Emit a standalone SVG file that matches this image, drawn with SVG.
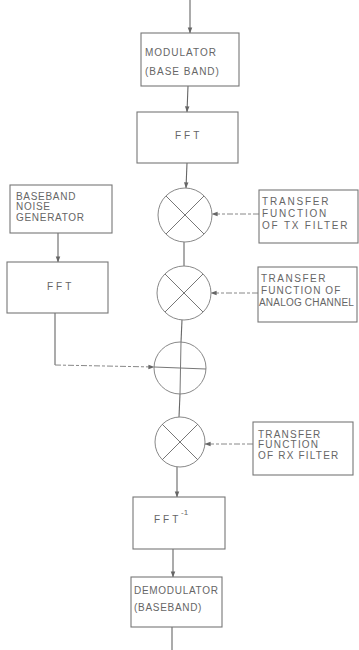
<svg xmlns="http://www.w3.org/2000/svg" width="359" height="650" viewBox="0 0 359 650">
  <defs>
    <marker id="arr" viewBox="0 0 8 8" refX="7.5" refY="4" markerWidth="6" markerHeight="6" orient="auto" markerUnits="userSpaceOnUse">
      <path d="M0,1 L8,4 L0,7 z" fill="#666"/>
    </marker>
    <style>
      .box { fill: #fff; stroke: #777; stroke-width: 1.1; }
      .op { fill: #fff; stroke: #888; stroke-width: 1; }
      .sym { stroke: #777; stroke-width: 1; fill: none; }
      .ln { stroke: #666; stroke-width: 1.1; fill: none; }
      .dash { stroke: #888; stroke-width: 1; fill: none; stroke-dasharray: 6 2 3 2; }
      text { font-family: "Liberation Sans", Arial, sans-serif; font-size: 10px; fill: #666; letter-spacing: 1px; }
      .wide { letter-spacing: 3px; }
    </style>
  </defs>

  <rect width="359" height="650" fill="#fff"/>

  <!-- connectors -->
  <g id="connectors">
    <path class="ln" d="M190,0 L190,33" marker-end="url(#arr)"/>
    <path class="ln" d="M188,86 L187,112" marker-end="url(#arr)"/>
    <path class="ln" d="M187,163 L186,188" marker-end="url(#arr)"/>
    <path class="ln" d="M184,242 L184,266"/>
    <path class="ln" d="M182,320 L181,342"/>
    <path class="ln" d="M180,394 L179,417"/>
    <path class="ln" d="M177,467 L177,497" marker-end="url(#arr)"/>
    <path class="ln" d="M173,549 L173,577" marker-end="url(#arr)"/>
    <path class="ln" d="M172,627 L172,650"/>
    <path class="ln" d="M58,233 L58,262" marker-end="url(#arr)"/>
    <path class="ln" d="M55,313 L55,365"/>
    <path class="dash" d="M55,365 L154,367" marker-end="url(#arr)"/>
    <path class="dash" d="M259,214 L212,214" marker-end="url(#arr)"/>
    <path class="dash" d="M258,293 L211,293" marker-end="url(#arr)"/>
    <path class="dash" d="M253,444 L205,444" marker-end="url(#arr)"/>
  </g>

  <!-- main chain -->
  <g id="modulator">
    <rect class="box" x="141" y="33" width="98" height="53"/>
    <text x="145" y="56">MODULATOR</text>
    <text x="145" y="75">(BASE BAND)</text>
  </g>

  <g id="fft-signal">
    <rect class="box" x="137" y="112" width="101" height="51"/>
    <text class="wide" x="175" y="139">FFT</text>
  </g>

  <g id="mult-tx">
    <circle class="op" cx="185" cy="215" r="27"/>
    <path class="sym" d="M166,196 L204,234 M204,196 L166,234"/>
  </g>

  <g id="mult-channel">
    <circle class="op" cx="184" cy="293" r="27"/>
    <path class="sym" d="M165,274 L203,312 M203,274 L165,312"/>
  </g>

  <g id="adder">
    <circle class="op" cx="180" cy="368" r="26"/>
    <path class="sym" d="M154,367 L206,369 M181,342 L180,394"/>
  </g>

  <g id="mult-rx">
    <circle class="op" cx="180" cy="442" r="25"/>
    <path class="sym" d="M162,424 L198,460 M198,424 L162,460"/>
  </g>

  <g id="ifft">
    <rect class="box" x="133" y="497" width="92" height="52"/>
    <text class="wide" x="154" y="523">FFT</text>
    <text x="181" y="515" style="font-size:8px;letter-spacing:0">-1</text>
  </g>

  <g id="demodulator">
    <rect class="box" x="131" y="577" width="91" height="50"/>
    <text x="134" y="594" style="letter-spacing:0.7px">DEMODULATOR</text>
    <text x="134" y="611" style="letter-spacing:0.7px">(BASEBAND)</text>
  </g>

  <!-- noise branch -->
  <g id="noise-generator" style="letter-spacing:0.7px">
    <rect class="box" x="10" y="185" width="102" height="48"/>
    <text x="16" y="200" style="letter-spacing:0.7px">BASEBAND</text>
    <text x="16" y="210" style="letter-spacing:0.7px">NOISE</text>
    <text x="16" y="221" style="letter-spacing:0.7px">GENERATOR</text>
  </g>

  <g id="fft-noise">
    <rect class="box" x="7" y="262" width="101" height="51"/>
    <text class="wide" x="47" y="290">FFT</text>
  </g>

  <!-- transfer functions -->
  <g id="tx-filter">
    <rect class="box" x="259" y="190" width="99" height="53"/>
    <text x="262" y="205" style="letter-spacing:1.8px">TRANSFER</text>
    <text x="262" y="217" style="letter-spacing:1.8px">FUNCTION</text>
    <text x="262" y="229" style="letter-spacing:1.8px">OF TX FILTER</text>
  </g>

  <g id="channel">
    <rect class="box" x="258" y="267" width="99" height="55"/>
    <text x="261" y="282" style="letter-spacing:1.5px">TRANSFER</text>
    <text x="261" y="294" style="letter-spacing:1.1px">FUNCTION OF</text>
    <text x="259" y="306" style="letter-spacing:0.2px">ANALOG CHANNEL</text>
  </g>

  <g id="rx-filter">
    <rect class="box" x="253" y="422" width="100" height="53"/>
    <text x="258" y="438" style="letter-spacing:1.2px">TRANSFER</text>
    <text x="258" y="448" style="letter-spacing:1.2px">FUNCTION</text>
    <text x="258" y="459" style="letter-spacing:1.2px">OF RX FILTER</text>
  </g>
</svg>
